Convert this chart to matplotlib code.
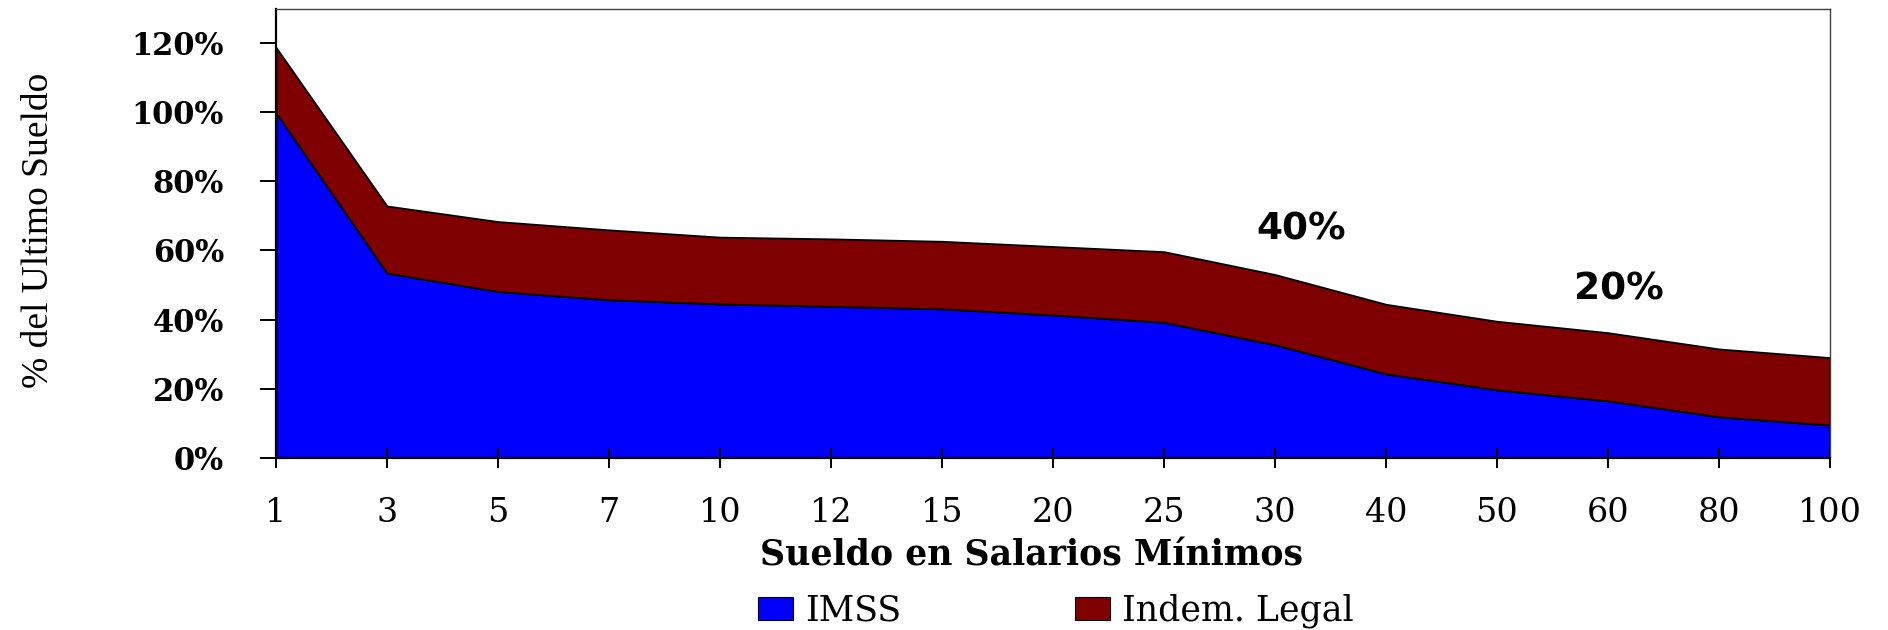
import matplotlib
matplotlib.use('Agg')
import matplotlib.pyplot as plt
from matplotlib.patches import Patch

# sueldo en salarios minimos (categorias del eje x)
categorias = ['1', '3', '5', '7', '10', '12', '15', '20', '25', '30', '40', '50', '60', '80', '100']
# porcentaje del ultimo sueldo
imss = [99.7, 53.4, 48.1, 45.7, 44.5, 43.8, 43.1, 41.3, 39.2, 32.7, 24.3, 19.7, 16.5, 11.9, 9.5]
indem_legal = [18.9, 19.4, 20.2, 20.2, 19.3, 19.5, 19.5, 19.8, 20.4, 20.3, 20.1, 19.8, 19.7, 19.6, 19.5]
y_ticks = [0, 20, 40, 60, 80, 100, 120]
etiquetas = [('40%', 9.24, 65.9), ('20%', 12.1, 48.6)]

serif = 'DejaVu Serif'
azul = '#0000FF'
guinda = '#7F0000'

fig = plt.figure(figsize=(18.88, 6.3), dpi=100)
ax = fig.add_axes([276 / 1888, 1 - 458 / 630, (1830 - 276) / 1888, (458 - 9) / 630])

x = list(range(len(categorias)))
ax.stackplot(x, imss, indem_legal, colors=[azul, guinda],
             edgecolor='black', linewidth=1.3)

ax.set_xlim(0, len(categorias) - 1)
ax.set_ylim(0, 129.7)
ax.set_xticks(x)
ax.set_xticklabels(categorias, family=serif, fontsize=24)
ax.set_yticks(y_ticks)
ax.set_yticklabels([f'{v}%' for v in y_ticks], family=serif, fontsize=22, fontweight='bold')
ax.tick_params(axis='y', direction='out', length=11.5, width=1.4, pad=26)
ax.tick_params(axis='x', direction='inout', length=13.7, width=1.4, pad=21)

for s in ['left', 'bottom']:
    ax.spines[s].set_linewidth(1.6)
    ax.spines[s].set_color('black')
for s in ['top', 'right']:
    ax.spines[s].set_linewidth(1.0)
    ax.spines[s].set_color('#404040')

ax.set_xlabel('Sueldo en Salarios Mínimos', family=serif, fontsize=25, fontweight='bold')
ax.xaxis.set_label_coords(1031 / 1888, 1 - 539 / 630, transform=fig.transFigure)
ax.set_ylabel('% del Ultimo Sueldo', family='Liberation Serif', fontsize=27)
ax.yaxis.set_label_coords(56 / 1888, 1 - 230 / 630, transform=fig.transFigure)

for texto, xi, yi in etiquetas:
    ax.text(xi, yi, texto, ha='center', va='center', fontsize=27,
            fontweight='bold', family='DejaVu Sans')

handles = [Patch(facecolor=azul, edgecolor='black', linewidth=0.8, label='IMSS'),
           Patch(facecolor=guinda, edgecolor='black', linewidth=0.8, label='Indem. Legal')]
ax.legend(handles=handles, loc='center', bbox_to_anchor=(1056 / 1888, 1 - 611 / 630),
          bbox_transform=fig.transFigure, ncol=2, frameon=False,
          prop={'family': serif, 'size': 25}, handlelength=1.0, handleheight=0.6,
          handletextpad=0.35, columnspacing=5.0, borderpad=0, borderaxespad=0)

fig.savefig('out.png', dpi=100)
